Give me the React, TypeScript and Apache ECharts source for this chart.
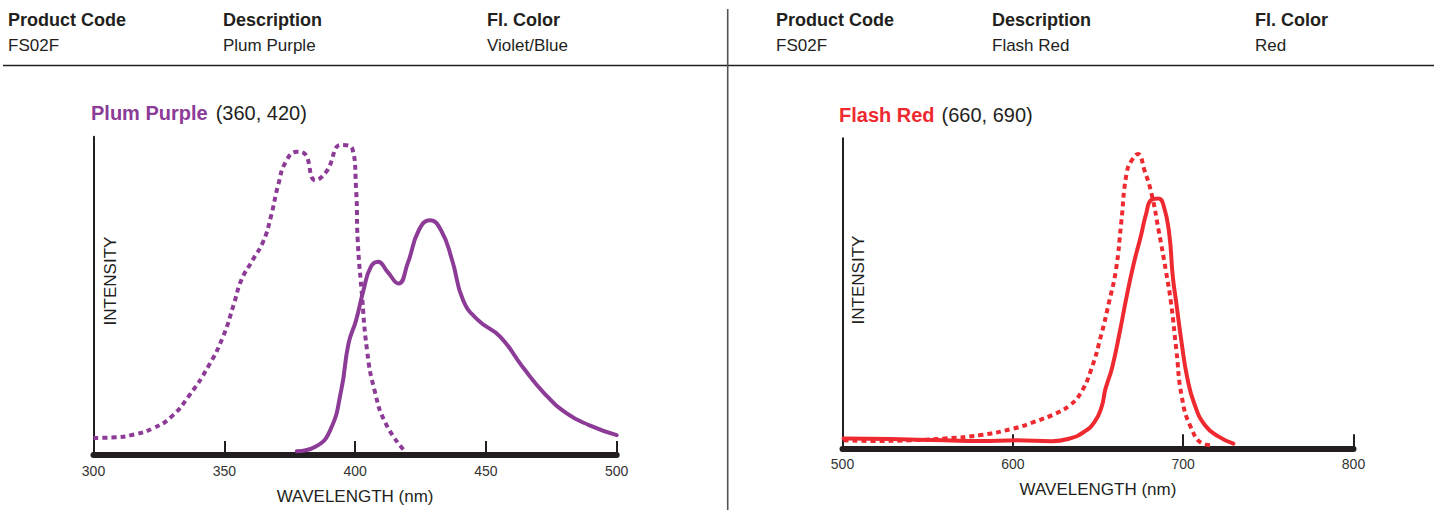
import React, { useEffect, useRef } from "react";
import * as echarts from "echarts";

// ---------- data ----------
const headerLabels = ["Product Code", "Description", "Fl. Color"];
const leftHeaderValues = ["FS02F", "Plum Purple", "Violet/Blue"];
const rightHeaderValues = ["FS02F", "Flash Red", "Red"];

const leftTitle = "Plum Purple";
const leftPeaks = "(360, 420)";
const rightTitle = "Flash Red";
const rightPeaks = "(660, 690)";

const leftXRange = [300, 500];
const leftXInterval = 50;
const rightXRange = [500, 800];
const rightXInterval = 100;

// wavelength (nm), relative intensity
const plumExcitation = [
  [300, 4.4], [308.5, 4.6], [315.5, 5.5], [322.6, 7.4], [329.7, 11.1], [336.7, 18],
  [343.8, 27], [349.5, 36.5], [353.7, 47], [356.5, 54.5], [360.8, 60.8], [365, 67],
  [367.8, 74.6], [370.7, 85], [373.5, 92], [377.7, 95.2], [380.6, 94.7], [384.8, 86.2],
  [389, 88.9], [394.7, 97.4], [398.9, 96.3], [400.4, 83], [401, 67], [402.5, 51],
  [404.6, 32], [407.4, 19.6], [411.7, 9], [418.7, 0.5],
];
const plumEmission = [
  [377.7, 0.2], [384.8, 1.6], [390.5, 6.9], [394.7, 19.6], [397.5, 34.4], [400.4, 41.8],
  [403.2, 51.3], [406, 58.7], [408.8, 60.3], [412.4, 57.1], [416.6, 53.4], [420.1, 59.8],
  [424.4, 70.4], [428.6, 73.5], [432.8, 70.4], [437.1, 60.8], [441.3, 48.1], [447, 41.8],
  [455.5, 36.5], [464, 27], [472.4, 18.5], [480.9, 12.2], [489.4, 8.5], [500, 5.3],
];
const redExcitation = [
  [500.6, 1.6], [518, 1.4], [539, 1.6], [560, 2.2], [581, 3.3], [600, 5.4], [612.5, 7.6],
  [625, 10.3], [633.4, 13], [639.6, 16.8], [645.9, 24.5], [652.1, 36.4], [656.3, 46.2],
  [660.5, 57], [663.6, 72.3], [666.8, 88.6], [669.9, 92.9], [673.5, 94.9], [677.2, 89.7],
  [681.4, 82], [685.6, 70], [689.8, 57], [692.9, 46.2], [696, 31], [699.2, 15.8],
  [704.4, 6], [711.7, 0.5], [717, 0],
];
const redEmission = [
  [500.6, 2.2], [528.8, 2], [560, 1.6], [581, 1.4], [602, 1.6], [623, 1.3], [633.4, 2.2],
  [641.7, 4.3], [648, 7.6], [652.1, 12.5], [654.2, 18], [655.3, 20], [658.4, 25.5],
  [662.6, 36.4], [666.8, 48.4], [671, 59.2], [675.1, 68], [678.3, 75.5], [681.4, 80],
  [685.6, 80.4], [688.7, 77.7], [691.8, 69], [693.9, 55], [696, 46.2], [699.2, 33],
  [702.3, 22.3], [706.5, 13.6], [712.8, 6.5], [721.1, 2.7], [729.5, 0.5],
];

// ---------- styles ----------
const PURPLE = "#8C3B97";
const RED = "#EE2A30";
const INK = "#231F20";
const FONT = '"Liberation Sans", Arial, sans-serif';

function headerTexts(xs: number[], values: string[]) {
  const out: any[] = [];
  xs.forEach((x, i) => {
    out.push({
      type: "text",
      x,
      y: 20,
      style: { text: headerLabels[i], fill: INK, fontFamily: FONT, fontSize: 18, fontWeight: "bold", verticalAlign: "middle" },
    });
    out.push({
      type: "text",
      x,
      y: 45,
      style: { text: values[i], fill: INK, fontFamily: FONT, fontSize: 17, verticalAlign: "middle" },
    });
  });
  return out;
}

export default function App() {
  const ref = useRef<HTMLDivElement>(null);

  useEffect(() => {
    if (!ref.current) return;
    const chart = echarts.init(ref.current, undefined, { renderer: "svg" });

    const xAxisCommon = (gridIndex: number, range: number[], interval: number, gap: number) => ({
      type: "value",
      gridIndex,
      min: range[0],
      max: range[1],
      interval,
      name: "WAVELENGTH (nm)",
      nameLocation: "middle",
      nameGap: gap,
      nameTextStyle: { fontFamily: FONT, fontSize: 17, color: INK },
      axisLine: { show: true, onZero: false, lineStyle: { color: INK, width: 6 } },
      axisTick: { show: true, inside: true, length: 14, lineStyle: { color: INK, width: 2 } },
      axisLabel: { show: true, margin: 9, fontFamily: FONT, fontSize: 14, color: "#333" },
      splitLine: { show: false },
    });

    const yAxisCommon = (gridIndex: number) => ({
      type: "value",
      gridIndex,
      min: -1,
      max: 100,
      axisLine: { show: true, lineStyle: { color: INK, width: 2 } },
      axisTick: { show: false },
      axisLabel: { show: false },
      splitLine: { show: false },
    });

    const lineSeries = (data: number[][], idx: number, color: string, dotted: boolean) => ({
      type: "line",
      xAxisIndex: idx,
      yAxisIndex: idx,
      data,
      showSymbol: false,
      symbol: "none",
      smooth: 0.5,
      lineStyle: dotted
        ? { color, width: 4, type: [5, 4], cap: "butt" }
        : { color, width: 4, cap: "round", join: "round" },
      z: 3,
    });

    chart.setOption({
      animation: false,
      backgroundColor: "#ffffff",
      grid: [
        { left: 93.5, top: 136.7, width: 523.2, height: 318.3, containLabel: false },
        { left: 842.5, top: 138.3, width: 511, height: 310, containLabel: false },
      ],
      xAxis: [
        xAxisCommon(0, leftXRange, leftXInterval, 33),
        xAxisCommon(1, rightXRange, rightXInterval, 33),
      ],
      yAxis: [yAxisCommon(0), yAxisCommon(1)],
      series: [
        lineSeries(plumExcitation, 0, PURPLE, true),
        lineSeries(plumEmission, 0, PURPLE, false),
        lineSeries(redExcitation, 1, RED, true),
        lineSeries(redEmission, 1, RED, false),
      ],
      graphic: [
        // header rules
        { type: "line", shape: { x1: 3, y1: 65.5, x2: 728, y2: 65.5 }, style: { stroke: INK, lineWidth: 1.5 } },
        { type: "line", shape: { x1: 728, y1: 65.5, x2: 1434, y2: 65.5 }, style: { stroke: INK, lineWidth: 1.5 } },
        { type: "line", shape: { x1: 727.7, y1: 9, x2: 727.7, y2: 510 }, style: { stroke: "#555", lineWidth: 1.6 } },
        ...headerTexts([8, 223, 487], leftHeaderValues),
        ...headerTexts([776, 992, 1255], rightHeaderValues),
        // titles
        {
          type: "text",
          x: 91,
          y: 113,
          style: {
            text: `{a|${leftTitle}}{b|${leftPeaks}}`,
            verticalAlign: "middle",
            rich: {
              a: { fill: PURPLE, fontFamily: FONT, fontSize: 20, fontWeight: "bold" },
              b: { fill: INK, fontFamily: FONT, fontSize: 20, padding: [0, 0, 0, 8] },
            },
          },
        },
        {
          type: "text",
          x: 839,
          y: 115,
          style: {
            text: `{a|${rightTitle}}{b|${rightPeaks}}`,
            verticalAlign: "middle",
            rich: {
              a: { fill: RED, fontFamily: FONT, fontSize: 20, fontWeight: "bold" },
              b: { fill: INK, fontFamily: FONT, fontSize: 20, padding: [0, 0, 0, 7] },
            },
          },
        },
        // y axis names
        {
          type: "text",
          x: 110,
          y: 281,
          rotation: Math.PI / 2,
          style: { text: "INTENSITY", fill: INK, fontFamily: FONT, fontSize: 17, align: "center", verticalAlign: "middle" },
        },
        {
          type: "text",
          x: 858,
          y: 280,
          rotation: Math.PI / 2,
          style: { text: "INTENSITY", fill: INK, fontFamily: FONT, fontSize: 17, align: "center", verticalAlign: "middle" },
        },
      ],
    });

    return () => chart.dispose();
  }, []);

  return (
    <div
      ref={ref}
      style={{ position: "absolute", left: 0, top: 0, width: 1434, height: 510 }}
    />
  );
}
